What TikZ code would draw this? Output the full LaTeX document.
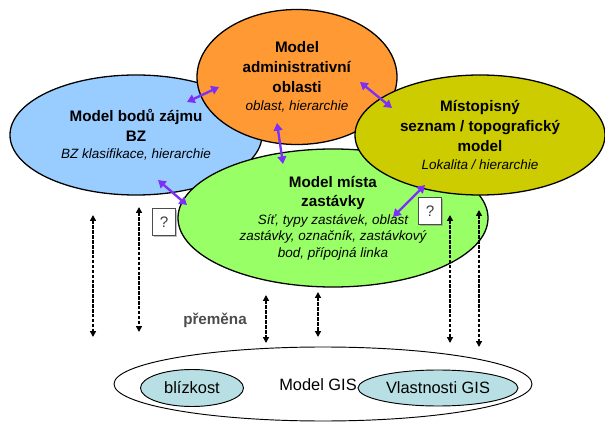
\documentclass[tikz,border=0pt]{standalone}
\usepackage{fontspec}
\setmainfont{Liberation Sans}
\usetikzlibrary{arrows.meta,shapes.geometric,shadows}
\definecolor{bzblue}{HTML}{99CCFF}
\definecolor{admorange}{HTML}{FF9933}
\definecolor{mistyellow}{HTML}{CCCC00}
\definecolor{stopgreen}{HTML}{99FF66}
\definecolor{gisteal}{HTML}{B8E0E4}
\definecolor{vazba}{HTML}{7B2FF7}
\newcommand{\popis}[1]{{\fontsize{11.5}{14}\itshape\selectfont #1}}

\begin{document}
\begin{tikzpicture}
    [x=0.03cm, y=-0.03cm, inner sep=0pt,
     model/.style={ellipse,draw=black,line width=1.1pt,align=center,
                   font=\fontsize{13}{17}\selectfont},
     vlastnost/.style={ellipse,draw=black,line width=0.8pt,fill=gisteal,
                   font=\fontsize{14}{16}\selectfont},
     otazka/.style={rectangle,draw=black!70,fill=white,line width=0.6pt,
                   minimum width=0.7cm,minimum height=0.8cm,
                   drop shadow={shadow xshift=1.5pt,shadow yshift=-1.5pt,fill=black!50},
                   font=\fontsize{13}{15}\selectfont,text=black!75},
     vztah/.style={{Triangle[length=6.5pt,width=7.5pt]}-{Triangle[length=6.5pt,width=7.5pt]},
                   draw=vazba,line width=2pt},
     prechod/.style={{Triangle[length=5pt,width=5pt]}-{Triangle[length=5pt,width=5pt]},
                   line width=1.8pt,dash pattern=on 3pt off 1.2pt}]
    \useasboundingbox (0,0) rectangle (605,423);
    % ellipsy modelu
    \node (bz) at (136,135) [model,fill=bzblue,minimum width=7.56cm,minimum height=3.6cm]
        {\textbf{Model bodů zájmu}\\ \textbf{BZ}\\[-2pt] \popis{BZ klasifikace, hierarchie}};
    \node (adm) at (297,77) [model,fill=admorange,minimum width=6cm,minimum height=4.05cm]
        {\textbf{Model}\\ \textbf{administrativní}\\ \textbf{oblasti}\\[-2pt] \popis{oblast, hierarchie}};
    \node (zast) at (333,218) [model,fill=stopgreen,minimum width=9.3cm,minimum height=4.14cm]
        {\textbf{Model místa}\\ \textbf{zastávky}\\[-2pt] \popis{Síť, typy zastávek, oblast}\\[-3pt]
         \popis{zastávky, označník, zastávkový}\\[-3pt] \popis{bod, přípojná linka}};
    \node (mist) at (480,135) [model,fill=mistyellow,minimum width=7.5cm,minimum height=3.6cm]
        {\textbf{Místopisný}\\ \textbf{seznam / topografický}\\ \textbf{model}\\[-2pt] \popis{Lokalita / hierarchie}};
    % model GIS
    \node (gis) at (323,384) [ellipse,draw=black,line width=0.8pt,fill=white,
        minimum width=12.54cm,minimum height=2.22cm] {};
    \node (gistext) at (318,385) [font=\fontsize{14}{16}\selectfont] {Model GIS};
    \node (blizkost) at (192,388) [vlastnost,minimum width=3.09cm,minimum height=1.11cm] {blízkost};
    \node (vlastnosti) at (438,388) [vlastnost,minimum width=4.8cm,minimum height=1.08cm] {Vlastnosti GIS};
    \node (q1) at (164,222) [otazka] {?};
    \node (q2) at (430,211) [otazka] {?};
    \node (premena) at (215,320) [font=\fontsize{13}{15}\selectfont\bfseries,text=black!70] {přeměna};
    % vazby mezi modely
    \foreach \i/\ax/\ay/\bx/\by in {1/187/102/219/87, 2/277/123/283/164, 3/158/180/187/205,
                                   4/360/82/392/108, 5/425/185/393/217}{
        \coordinate (v\i a) at (\ax,\ay);
        \coordinate (v\i b) at (\bx,\by);
        \draw [vztah] (v\i a) -- (v\i b);
    }
    % prechody do GIS
    \foreach \i/\x/\t/\b in {1/93/215/337, 2/139/207/332, 3/266/295/343,
                             4/318/292/337, 5/450/215/343, 6/479/210/347}{
        \coordinate (p\i t) at (\x,\t);
        \coordinate (p\i b) at (\x,\b);
        \draw [prechod] (p\i t) -- (p\i b);
    }
\end{tikzpicture}
\end{document}
